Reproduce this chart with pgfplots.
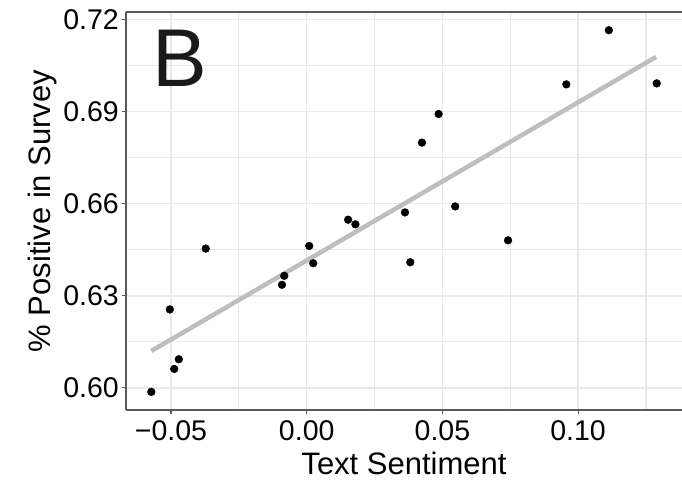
\documentclass[border=0pt]{standalone}
\usepackage{fontspec}
\setmainfont{Liberation Sans}
\usepackage{pgfplots}
\pgfplotsset{compat=1.18}
\definecolor{gridc}{RGB}{232,232,232}
\definecolor{axc}{RGB}{90,90,90}
\definecolor{fitc}{RGB}{190,190,190}
\begin{document}
\begin{tikzpicture}
\begin{axis}[
  at={(0,0)}, anchor=south west,
  width=556pt, height=398pt, scale only axis,
  xmin=-0.06659, xmax=0.13828, ymin=0.5928, ymax=0.7224,
  clip=false,
  axis x line*=bottom, axis y line*=left,
  axis line style={-, draw=axc, line width=1.1pt},
  xtick={-0.05,0,0.05,0.10},
  xticklabels={−0.05,0.00,0.05,0.10},
  minor xtick={-0.025,0.025,0.075,0.125},
  ytick={0.60,0.63,0.66,0.69,0.72},
  yticklabels={0.60,0.63,0.66,0.69,0.72},
  minor ytick={0.615,0.645,0.675,0.705},
  grid=both,
  major grid style={draw=gridc, line width=1.5pt},
  minor grid style={draw=gridc, line width=1.2pt},
  tick align=outside,
  major tick length=4pt, minor tick length=0pt,
  tick style={draw=axc, line width=1.1pt},
  ticklabel style={font=\fontsize{28.5}{28.5}\selectfont, inner sep=0pt},
  xticklabel style={anchor=north, yshift=-6pt},
  yticklabel style={anchor=east, xshift=-3pt},
  xlabel={Text Sentiment},
  ylabel={\% Positive in Survey},
  label style={font=\fontsize{31}{31}\selectfont, inner sep=0pt},
  xlabel style={at={(axis description cs:0.5,0)}, anchor=base, yshift=-64pt},
  ylabel style={at={(axis description cs:0,0.5)}, anchor=base, yshift=75pt},
]
\draw[draw=axc, line width=1.1pt] (rel axis cs:0,1) -- (rel axis cs:1,1);
\addplot[fitc, line width=4.5pt, line cap=butt] coordinates {(-0.05728,0.61201) (0.12875,0.70779)};
\addplot[only marks, mark=*, mark size=3.9pt, mark options={fill=black, draw=black}] coordinates {
(-0.05728,0.5987)
(-0.05044,0.62555)
(-0.04882,0.60617)
(-0.04713,0.60932)
(-0.03721,0.64536)
(-0.00912,0.63357)
(-0.00827,0.63649)
(0.00092,0.64623)
(0.00239,0.64058)
(0.01526,0.65477)
(0.01794,0.65325)
(0.03621,0.65714)
(0.05471,0.65909)
(0.03816,0.64091)
(0.07419,0.64805)
(0.04246,0.67987)
(0.04860,0.68919)
(0.09566,0.69883)
(0.11132,0.71646)
(0.12897,0.69916)
};
\node[anchor=base west, inner sep=0pt, text={rgb,255:red,26;green,26;blue,26}, font=\fontsize{82}{82}\selectfont] at (axis description cs:0.047,0.8116) {B};
\end{axis}
\pgfresetboundingbox
\path (-126pt,-69pt) rectangle (556pt,410pt);
\end{tikzpicture}
\end{document}
